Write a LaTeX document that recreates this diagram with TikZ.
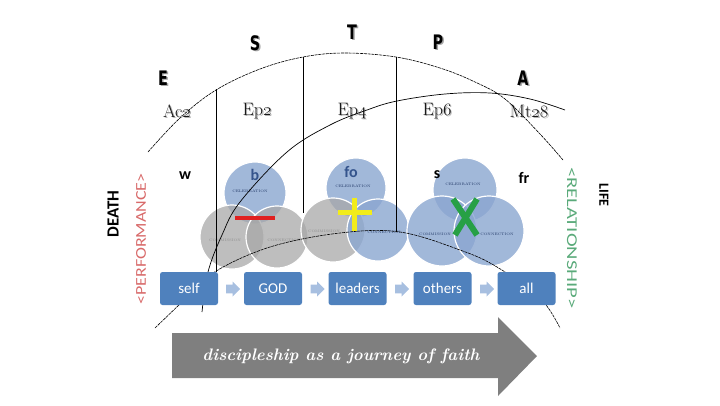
\documentclass[tikz,border=0pt]{standalone}
\usepackage{fontspec}
\usepackage{graphicx}
\newfontfamily\calfont{Carlito}
\newfontfamily\heavyfont{DejaVu Sans}
\usetikzlibrary{shapes.arrows}
\definecolor{boxblue}{HTML}{4F81BD}
\definecolor{arrblue}{HTML}{A7BFE0}
\definecolor{cblue}{HTML}{8AA6D0}
\definecolor{cgrey}{HTML}{A8A8A8}
\definecolor{navy}{HTML}{34548C}
\definecolor{tinynavy}{HTML}{1F3864}
\definecolor{barred}{HTML}{E02020}
\definecolor{plusyellow}{HTML}{F2EC1A}
\definecolor{xgreen}{HTML}{27A045}
\definecolor{bigarrow}{HTML}{7F7F7F}
\definecolor{perfred}{HTML}{D86A6A}
\definecolor{relgreen}{HTML}{5AAA7A}
\begin{document}
\begin{tikzpicture}[x=1pt,y=-1pt,
  letter/.style={font=\heavyfont\bfseries\fontsize{20}{21}\selectfont, inner sep=0pt},
  refstyle/.style={font=\fontsize{18}{20}\selectfont, inner sep=0pt},
  stepbox/.style={fill=boxblue, rounded corners=2.5pt, minimum width=58pt, minimum height=33pt,
    text=white, font=\calfont\fontsize{15}{17}\selectfont, inner sep=0pt},
  smallarrow/.style={single arrow, fill=arrblue, minimum height=14pt, minimum width=15pt,
    single arrow head extend=3pt, inner sep=0pt},
  bluecirc/.style={circle, fill=cblue, fill opacity=0.8, draw=white, line width=1.2pt, inner sep=0pt},
  greycirc/.style={circle, fill=cgrey, fill opacity=0.75, draw=white, line width=1.2pt, inner sep=0pt},
  tinylab/.style={font=\fontsize{3.6}{4}\selectfont, text=tinynavy, inner sep=0pt},
  tinygrey/.style={font=\fontsize{3.6}{4}\selectfont, text=black!45, inner sep=0pt},
  grouplab/.style={font=\calfont\bfseries\fontsize{16}{17}\selectfont, inner sep=0pt},
  thinarc/.style={black, line width=0.6pt, dash pattern=on 3pt off 0.8pt},
  solidarc/.style={black, line width=0.7pt},
  divider/.style={black, line width=0.8pt}
]
\useasboundingbox (0,0) rectangle (720,405);

% ---------- top letters ----------
\node[letter, text=black!35] (Es) at (164.5,79.5) {\scalebox{0.72}[1]{E}};
\node[letter] (E) at (163,78) {\scalebox{0.72}[1]{E}};
\node[letter, text=black!35] (Ss) at (256.5,44.5) {\scalebox{0.72}[1]{S}};
\node[letter] (S) at (255,43) {\scalebox{0.72}[1]{S}};
\node[letter, text=black!35] (Ts) at (353.5,33.5) {\scalebox{0.72}[1]{T}};
\node[letter] (T) at (352,32) {\scalebox{0.72}[1]{T}};
\node[letter, text=black!35] (Ps) at (439.5,43.5) {\scalebox{0.72}[1]{P}};
\node[letter] (P) at (438,42) {\scalebox{0.72}[1]{P}};
\node[letter, text=black!35] (As) at (524.5,79.5) {\scalebox{0.72}[1]{A}};
\node[letter] (A) at (523,78) {\scalebox{0.72}[1]{A}};

% ---------- scripture refs ----------
\node[refstyle, text=black!30] (r1s) at (178.2,112.2) {Ac$\mathnormal{2}$};
\node[refstyle, text=black!90] (r1) at (177,111) {Ac$\mathnormal{2}$};
\node[refstyle, text=black!30] (r2s) at (258.2,112.2) {Ep$\mathnormal{2}$};
\node[refstyle, text=black!90] (r2) at (257,111) {Ep$\mathnormal{2}$};
\node[refstyle, text=black!30] (r3s) at (353.2,112.2) {Ep$\mathnormal{4}$};
\node[refstyle, text=black!90] (r3) at (352,111) {Ep$\mathnormal{4}$};
\node[refstyle, text=black!30] (r4s) at (438.2,112.2) {Ep$\mathnormal{6}$};
\node[refstyle, text=black!90] (r4) at (437,111) {Ep$\mathnormal{6}$};
\node[refstyle, text=black!30] (r5s) at (530.2,112.2) {Mt$\mathnormal{28}$};
\node[refstyle, text=black!90] (r5) at (529,111) {Mt$\mathnormal{28}$};

% ---------- circles group 1 ----------
\node[bluecirc, minimum size=62pt] (g1top) at (255,193) {};
\node[greycirc, minimum size=64pt] (g1bl) at (232,237) {};
\node[greycirc, minimum size=62pt] (g1br) at (277,237) {};
% group 2
\node[bluecirc, minimum size=60pt] (g2top) at (356,188) {};
\node[greycirc, minimum size=64pt] (g2bl) at (333,230) {};
\node[bluecirc, minimum size=62pt] (g2br) at (378,230) {};
% group 3
\node[bluecirc, minimum size=64pt] (g3top) at (465,190) {};
\node[bluecirc, minimum size=70pt] (g3bl) at (442,231) {};
\node[bluecirc, minimum size=70pt] (g3br) at (489,231) {};

% tiny labels
\node[tinylab] (g1c) at (250,191) {CELEBRATION};
\node[tinygrey] (g1m) at (225,240) {COMMISSION};
\node[tinygrey] (g1n) at (284,240) {CONNECTION};
\node[tinylab] (g2c) at (353,186) {CELEBRATION};
\node[tinygrey] (g2m) at (324,231) {COMMISSION};
\node[tinylab] (g2n) at (384,232) {CONNECTION};
\node[tinylab] (g3c) at (463,184) {CELEBRATION};
\node[tinylab] (g3m) at (435,234) {COMMISSION};
\node[tinylab] (g3n) at (497,234) {CONNECTION};

% group letters
\node[grouplab] (w) at (185,176) {w};
\node[grouplab, text=navy] (b) at (255,175) {b};
\node[grouplab, text=navy] (fo) at (351,172) {fo};
\node[grouplab] (s) at (437,175) {s};
\node[grouplab] (fr) at (524,178) {fr};

% ---------- lines / arcs ----------
\draw[divider] (216,89) -- (216,272);
\draw[divider] (303,57) -- (303,213);
\draw[divider] (396,57) -- (396,232);

\draw[thinarc] plot[smooth, tension=0.6] coordinates {(148,152) (180,118) (216,90) (260,69) (303,57) (345,53) (396,57) (440,68) (475,82) (505,99) (540,134) (563,160)};
\draw[solidarc] plot[smooth, tension=0.6] coordinates {(202,312) (208,272) (222,235) (240,202) (287,152) (330,125) (367,110) (397,101) (445,94) (490,93) (530,99) (565,110)};
\draw[thinarc] plot[smooth, tension=0.6] coordinates {(155,328) (180,304) (213,273) (270,247) (340,233) (400,232) (460,250) (497,267) (540,298) (560,328)};

% ---------- marks ----------
\draw[barred, line width=4pt] (235,218) -- (275,218);
\draw[plusyellow, line width=5pt] (338,212) -- (372,212);
\draw[plusyellow, line width=5pt] (354,198) -- (354,231);
\draw[xgreen, line width=6pt] (453,199) -- (477,235);
\draw[xgreen, line width=6pt] (477,199) -- (455,235);

% ---------- boxes ----------
\node[stepbox] (self) at (189,288.5) {self};
\node[stepbox] (god) at (273,288.5) {GOD};
\node[stepbox] (leaders) at (357.5,288.5) {leaders};
\node[stepbox] (others) at (442.5,288.5) {others};
\node[stepbox] (all) at (526.5,288.5) {all};
\node[smallarrow] (a1) at (231,289) {\rule{0pt}{8pt}};
\node[smallarrow] (a2) at (315.5,289) {\rule{0pt}{8pt}};
\node[smallarrow] (a3) at (400,289) {\rule{0pt}{8pt}};
\node[smallarrow] (a4) at (485,289) {\rule{0pt}{8pt}};

% ---------- side texts ----------
\node[rotate=90, font=\calfont\bfseries\fontsize{17}{18}\selectfont, inner sep=0pt] (death) at (113,214) {DEATH};
\node[rotate=90, font=\calfont\fontsize{15}{16}\selectfont, text=perfred, inner sep=0pt] (perf) at (141,239) {\scalebox{1.2}[1]{<PERFORMANCE>}};
\node[rotate=-90, font=\calfont\bfseries\fontsize{14}{15}\selectfont, inner sep=0pt] (life) at (604,195) {LIFE};
\node[rotate=-90, font=\calfont\fontsize{15}{16}\selectfont, text=relgreen, inner sep=0pt] (rel) at (572,238) {\scalebox{1.38}[1]{<RELATIONSHIP>}};

% ---------- big arrow ----------
\fill[bigarrow] (172,333) -- (498,333) -- (498,317) -- (537,356) -- (498,396) -- (498,378) -- (172,378) -- cycle;
\node[text=white, font=\bfseries\itshape\fontsize{17}{18}\selectfont, inner sep=0pt] (journey) at (341,356) {\resizebox{277pt}{!}{discipleship as a journey of faith}};
\end{tikzpicture}
\end{document}
